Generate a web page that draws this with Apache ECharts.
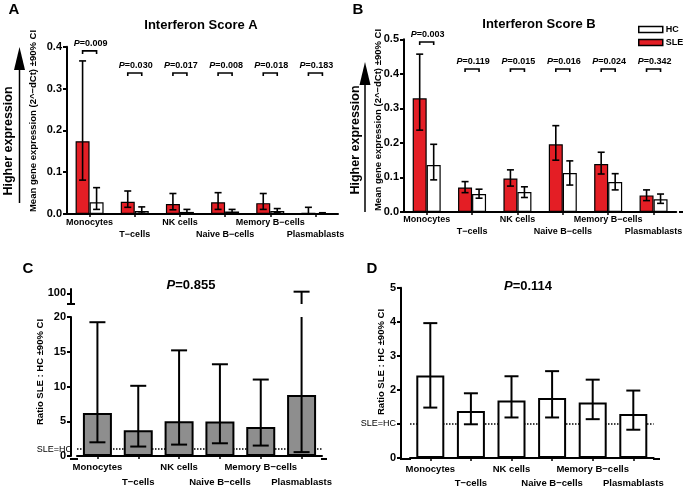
<!DOCTYPE html>
<html><head><meta charset="utf-8">
<script src="https://cdn.jsdelivr.net/npm/echarts@6/dist/echarts.min.js"></script>
<style>html,body{margin:0;padding:0;background:#fff}#c{width:685px;height:490px}</style>
</head><body><div id="c"></div>
<script>
// ---------- DATA ----------
const categories = ['Monocytes','T\u2212cells','NK cells','Naive B\u2212cells','Memory B\u2212cells','Plasmablasts'];

// Panel A: Interferon Score A (mean, 90% CI)
const sleA    = [0.174, 0.029, 0.024, 0.028, 0.026, 0.003];
const sleA_lo = [0.081, 0.016, 0.010, 0.011, 0.011, 0.000];
const sleA_hi = [0.366, 0.055, 0.049, 0.051, 0.049, 0.016];
const hcA     = [0.028, 0.007, 0.005, 0.006, 0.007, 0.002];
const hcA_lo  = [0.011, 0.002, 0.002, 0.002, 0.003, 0.001];
const hcA_hi  = [0.063, 0.017, 0.011, 0.011, 0.013, 0.003];
const pA      = ['0.009','0.030','0.017','0.008','0.018','0.183'];

// Panel B: Interferon Score B
const sleB    = [0.329, 0.071, 0.097, 0.196, 0.139, 0.048];
const sleB_lo = [0.237, 0.056, 0.075, 0.150, 0.110, 0.033];
const sleB_hi = [0.457, 0.088, 0.122, 0.250, 0.173, 0.064];
const hcB     = [0.136, 0.052, 0.058, 0.113, 0.087, 0.037];
const hcB_lo  = [0.093, 0.040, 0.042, 0.078, 0.064, 0.025];
const hcB_hi  = [0.196, 0.066, 0.073, 0.148, 0.111, 0.052];
const pB      = ['0.003','0.119','0.015','0.016','0.024','0.342'];

// Panel C: ratio SLE:HC, score A
const ratioC    = [6.2, 3.7, 5.0, 4.96, 4.18, 8.78];
const ratioC_lo = [1.97, 1.36, 1.64, 1.83, 1.5, 0.56];
const ratioC_hi = [19.25, 10.1, 15.2, 13.2, 11.0, 101.5];
const pC = '0.855';

// Panel D: ratio SLE:HC, score B
const ratioD    = [2.42, 1.38, 1.69, 1.76, 1.63, 1.29];
const ratioD_lo = [1.48, 0.99, 1.19, 1.19, 1.14, 0.83];
const ratioD_hi = [3.96, 1.90, 2.40, 2.55, 2.30, 1.98];
const pD = '0.114';

// ---------- STYLE / LAYOUT ----------
const FF = "'Liberation Sans', Arial, Helvetica, sans-serif";
const RED = '#e41e25';
const chart = echarts.init(document.getElementById('c'));

function xAx(gi, lh, margin, fs, show) {
  return {
    type: 'category', gridIndex: gi, data: categories, show: show !== false,
    axisLine: { lineStyle: { color: '#000', width: 2 } },
    axisTick: { show: true, alignWithLabel: true, length: 3, lineStyle: { color: '#000', width: 1.5 } },
    axisLabel: { interval: 0, hideOverlap: false, fontFamily: FF, fontSize: fs, fontWeight: 'bold', color: '#000',
      lineHeight: lh, margin: margin, formatter: (v, i) => (i % 2 ? '\n' + v : v) }
  };
}
function yAx(gi, min, max, interval, offset, fmt, extra) {
  return Object.assign({
    type: 'value', gridIndex: gi, min: min, max: max, interval: interval, offset: offset,
    axisLine: { show: true, lineStyle: { color: '#000', width: 2 } },
    axisTick: { show: true, length: 4, lineStyle: { color: '#000', width: 2 } },
    splitLine: { show: false },
    axisLabel: { fontFamily: FF, fontSize: 11, fontWeight: 'bold', color: '#000', margin: 5, formatter: fmt }
  }, extra || {});
}

function errSeries(ai, lo, hi, offset, cap, min, max, lw) {
  return {
    type: 'custom', xAxisIndex: ai, yAxisIndex: ai, z: 6, silent: true, clip: false,
    data: lo.map((l, i) => [i, l, hi[i]]),
    renderItem: (params, api) => {
      const c = api.value(0), l = api.value(1), h = api.value(2);
      if (h < min || l > max) return null;
      const x = api.coord([c, min])[0] + offset;
      const yl = api.coord([c, Math.max(l, min)])[1];
      const yh = api.coord([c, Math.min(h, max)])[1];
      const st = { stroke: '#000', lineWidth: lw };
      const ch = [{ type: 'line', shape: { x1: x, y1: yl, x2: x, y2: yh }, style: st }];
      if (h <= max) ch.push({ type: 'line', shape: { x1: x - cap, y1: yh, x2: x + cap, y2: yh }, style: st });
      if (l >= min) ch.push({ type: 'line', shape: { x1: x - cap, y1: yl, x2: x + cap, y2: yl }, style: st });
      return { type: 'group', children: ch };
    }
  };
}

function bracketSeries(ai, pvals, levels, half) {
  return {
    type: 'custom', xAxisIndex: ai, yAxisIndex: ai, z: 6, silent: true, clip: false,
    data: pvals.map((p, i) => [i, levels[i]]),
    renderItem: (params, api) => {
      const i = api.value(0);
      const pt = api.coord([i, api.value(1)]);
      const cx = pt[0], cy = pt[1];
      return { type: 'group', children: [
        { type: 'polyline', shape: { points: [[cx - half, cy + 3], [cx - half, cy], [cx + half, cy], [cx + half, cy + 3]] },
          style: { stroke: '#000', fill: null, lineWidth: 1.6 } },
        { type: 'text', x: cx + 1, y: cy - 3, style: {
          text: '{i|P}=' + pvals[i], fontFamily: FF, fontSize: 9, fontWeight: 'bold', fill: '#000',
          align: 'center', verticalAlign: 'bottom',
          rich: { i: { fontStyle: 'italic', fontFamily: FF, fontSize: 9, fontWeight: 'bold', fill: '#000' } } } }
      ] };
    }
  };
}

function gText(x, y, text, size, opts) {
  return Object.assign({ type: 'text', x: x, y: y, silent: true, style: Object.assign({
    text: text, fontFamily: FF, fontSize: size, fontWeight: 'bold', fill: '#000',
    align: 'center', verticalAlign: 'middle' }, (opts && opts.style) || {}) }, (opts && opts.el) || {});
}
function gLine(x1, y1, x2, y2, w) {
  return { type: 'line', silent: true, shape: { x1, y1, x2, y2 }, style: { stroke: '#000', lineWidth: w || 2 } };
}
const ROT = { el: { rotation: Math.PI / 2 } };
const pRich = { style: { rich: { i: { fontStyle: 'italic', fontFamily: FF, fontSize: 13, fontWeight: 'bold', fill: '#000' } } } };

const option = {
  animation: false,
  backgroundColor: '#fff',
  textStyle: { fontFamily: FF },
  grid: [
    { left: 67, top: 46.7, width: 271, height: 167.3 },   // A
    { left: 404, top: 39.3, width: 276, height: 172.7 },  // B
    { left: 77, top: 317, width: 245, height: 142 },      // C lower
    { left: 77, top: 289, width: 245, height: 15 },       // C upper (break)
    { left: 410, top: 287.7, width: 243.6, height: 171.3 } // D
  ],
  xAxis: [
    xAx(0, 12, 3, 9),
    xAx(1, 12, 2, 9),
    xAx(2, 15, 4, 9.5),
    xAx(3, 12, 3, 9, false),
    xAx(4, 14, 4, 9.5)
  ],
  yAxis: [
    yAx(0, 0, 0.4, 0.1, 0, v => v.toFixed(1)),
    yAx(1, 0, 0.5, 0.1, 0, v => v.toFixed(1)),
    yAx(2, 0, 20, 5, 6, v => String(v)),
    yAx(3, 90, 104, 10, 6, v => (v === 100 ? '100' : ''), {}),
    yAx(4, 0, 5, 1, 9, v => (v === 1 ? '{n|SLE=HC}' : String(v)))
  ],
  legend: {
    orient: 'vertical', left: 633, top: 20, itemWidth: 24, itemHeight: 6, itemGap: 4,
    selectedMode: false, icon: 'rect',
    textStyle: { fontFamily: FF, fontSize: 9, fontWeight: 'bold', color: '#000', padding: [0, 0, 0, -2] },
    data: [
      { name: 'HC', itemStyle: { color: '#fff', borderColor: '#000', borderWidth: 1.5 } },
      { name: 'SLE', itemStyle: { color: RED, borderColor: '#000', borderWidth: 1.5 } }
    ]
  },
  series: [
    // A
    { type: 'bar', name: 'SLE', xAxisIndex: 0, yAxisIndex: 0, data: sleA, barWidth: 14, barGap: '0%',
      itemStyle: { color: RED, borderColor: '#000', borderWidth: 1.2 } },
    { type: 'bar', name: 'HC', xAxisIndex: 0, yAxisIndex: 0, data: hcA, barWidth: 14, barGap: '0%',
      itemStyle: { color: '#fff', borderColor: '#000', borderWidth: 1.2 } },
    errSeries(0, sleA_lo, sleA_hi, -7, 3.5, 0, 0.4, 1.6),
    errSeries(0, hcA_lo, hcA_hi, 7, 3.5, 0, 0.4, 1.6),
    bracketSeries(0, pA, [0.39, 0.337, 0.337, 0.337, 0.337, 0.337], 7),
    // B
    { type: 'bar', name: 'SLE', xAxisIndex: 1, yAxisIndex: 1, data: sleB, barWidth: 14, barGap: '0%',
      itemStyle: { color: RED, borderColor: '#000', borderWidth: 1.2 } },
    { type: 'bar', name: 'HC', xAxisIndex: 1, yAxisIndex: 1, data: hcB, barWidth: 14, barGap: '0%',
      itemStyle: { color: '#fff', borderColor: '#000', borderWidth: 1.2 } },
    errSeries(1, sleB_lo, sleB_hi, -7, 3.5, 0, 0.5, 1.6),
    errSeries(1, hcB_lo, hcB_hi, 7, 3.5, 0, 0.5, 1.6),
    bracketSeries(1, pB, [0.492, 0.414, 0.414, 0.414, 0.414, 0.414], 7),
    // C
    { type: 'bar', name: 'Ratio A', xAxisIndex: 2, yAxisIndex: 2, data: ratioC, barWidth: 29,
      itemStyle: { color: '#8e8e8e', borderColor: '#000', borderWidth: 2 },
      markLine: { silent: true, z: 1, symbol: 'none', data: [{ yAxis: 1 }],
        lineStyle: { type: 'dotted', color: '#000', width: 1.5 },
        label: { show: true, position: 'start', formatter: 'SLE=HC', fontFamily: FF, fontSize: 9, color: '#000', distance: 5 } } },
    errSeries(2, ratioC_lo, ratioC_hi, 0, 8, 0, 20, 2),
    errSeries(3, ratioC_lo, ratioC_hi, 0, 8, 90, 104, 2),
    // D
    { type: 'bar', name: 'Ratio B', xAxisIndex: 4, yAxisIndex: 4, data: ratioD, barWidth: 28,
      itemStyle: { color: '#fff', borderColor: '#000', borderWidth: 2 },
      markLine: { silent: true, z: 1, symbol: 'none', data: [{ yAxis: 1 }],
        lineStyle: { type: 'dotted', color: '#000', width: 1.5 }, label: { show: false } } },
    errSeries(4, ratioD_lo, ratioD_hi, 0, 7, 0, 5, 2)
  ],
  graphic: [
    gText(14, 10, 'A', 15), gText(358, 10, 'B', 15), gText(28, 269, 'C', 15), gText(372, 269, 'D', 15),
    gText(201, 25, 'Interferon Score A', 13), gText(539, 24, 'Interferon Score B', 13),
    gText(33, 121, 'Mean gene expression (2^\u2212dCt) \u00b190% CI', 9.5, ROT),
    gText(378, 120, 'Mean gene expression (2^\u2212dCt) \u00b190% CI', 9.5, ROT),
    gText(40, 372, 'Ratio SLE : HC \u00b190% CI', 9.5, ROT),
    gText(381, 362, 'Ratio SLE : HC \u00b190% CI', 9.5, ROT),
    gText(9, 141, 'Higher expression', 12.5, ROT),
    gText(356, 140, 'Higher expression', 12.5, ROT),
    gLine(19.5, 203, 19.5, 66, 1.5),
    { type: 'polygon', silent: true, shape: { points: [[14, 70], [25, 70], [19.5, 47]] }, style: { fill: '#000' } },
    gLine(365, 212, 365, 82, 1.5),
    { type: 'polygon', silent: true, shape: { points: [[359.5, 85], [370.5, 85], [365, 62]] }, style: { fill: '#000' } },
    gText(191, 285, '{i|P}=' + pC, 13, pRich),
    gText(528, 286, '{i|P}=' + pD, 13, pRich),
    // axis baseline extensions toward offset y-axes
    gLine(679, 212, 683, 212),
    gLine(70, 459, 78, 459), gLine(321, 459, 327, 459),
    gLine(400, 459, 411, 459), gLine(653, 459, 660, 459),
    // axis break mark in C
    gLine(67, 304, 75, 304)
  ]
};
// D y-axis label rich style for SLE=HC
option.yAxis[4].axisLabel.rich = { n: { fontFamily: FF, fontSize: 9, fontWeight: 'normal', color: '#000' } };
option.yAxis[3].axisTick.customValues = [100];
option.yAxis[3].axisLabel.customValues = [100];
chart.setOption(option);
</script>
</body></html>
